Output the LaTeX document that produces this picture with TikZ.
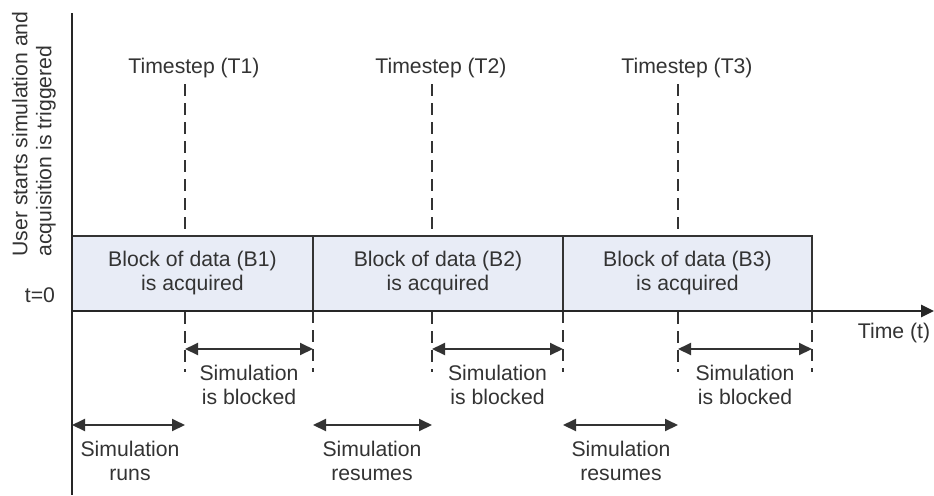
\documentclass[tikz,border=0pt]{standalone}
\usepackage{fontspec}
\setmainfont{Liberation Sans}
\usetikzlibrary{arrows.meta}

\definecolor{ink}{HTML}{333333}
\definecolor{blockfill}{HTML}{E8ECF6}

\tikzset{
  lbl/.style={text=ink, font=\fontsize{10.6}{12}\selectfont, align=center, inner sep=0pt},
  block/.style={lbl, draw=ink, line width=0.8pt, fill=blockfill,
    minimum width=#1, minimum height=37.5pt},
  tick/.style={draw=ink, line width=0.8pt, dash pattern=on 6pt off 3.5pt},
  span/.style={draw=ink, line width=1pt, {Triangle[length=6.5pt,width=6pt]}-{Triangle[length=6.5pt,width=6pt]}},
  axis/.style={draw=black!85, line width=1.4pt}
}

\begin{document}
\begin{tikzpicture}[x=0.5pt, y=-0.5pt]
  \useasboundingbox (0,0) rectangle (934,495);

  % time axis marks
  \coordinate (O) at (72,311);
  \coordinate (top) at (72,13);
  \coordinate (bot) at (72,495);
  \coordinate (tend) at (934,311);
  \coordinate (d1) at (185,84);
  \coordinate (d2) at (432,84);
  \coordinate (d3) at (678,84);
  \coordinate (e1) at (313,311);
  \coordinate (e2) at (563,311);
  \coordinate (e3) at (812,311);

  % dashed timestep lines
  \draw[tick] (d1) -- (d1 |- 0,372);
  \draw[tick] (d2) -- (d2 |- 0,372);
  \draw[tick] (d3) -- (d3 |- 0,372);
  \draw[tick] (e1) -- (e1 |- 0,372);
  \draw[tick] (e2) -- (e2 |- 0,372);
  \draw[tick] (e3) -- (e3 |- 0,372);

  \node[lbl] (t1) at (194,68) {Timestep (T1)};
  \node[lbl] (t2) at (441,68) {Timestep (T2)};
  \node[lbl] (t3) at (687,68) {Timestep (T3)};

  % blocks of data
  \node[block=120.5pt] (b1) at (192.5,273.5) {Block of data (B1)\\is acquired};
  \node[block=125pt] (b2) at (438,273.5) {Block of data (B2)\\is acquired};
  \node[block=124.5pt] (b3) at (687.5,273.5) {Block of data (B3)\\is acquired};

  % axes
  \draw[axis] (top) -- (bot);
  \draw[axis, -{Triangle[length=6.5pt,width=6pt]}] (O) -- (tend);

  \node[lbl] (zero) at (40,295) {t=0};
  \node[lbl] (time) at (894,333) {Time (t)};
  \node[lbl, rotate=90, anchor=west, align=left] (start) at (34,257)
    {User starts simulation and\\acquisition is triggered};

  % blocked spans
  \coordinate (k1) at (185,349);
  \coordinate (k2) at (432,349);
  \coordinate (k3) at (678,349);
  \draw[span] (k1) -- (k1 -| e1);
  \draw[span] (k2) -- (k2 -| e2);
  \draw[span] (k3) -- (k3 -| e3);
  \node[lbl] (blk1) at (249,385) {Simulation\\is blocked};
  \node[lbl] (blk2) at (497.5,385) {Simulation\\is blocked};
  \node[lbl] (blk3) at (745,385) {Simulation\\is blocked};

  % running spans
  \coordinate (r0) at (72,425);
  \coordinate (r1) at (313,425);
  \coordinate (r2) at (563,425);
  \draw[span] (r0) -- (r0 -| d1);
  \draw[span] (r1) -- (r1 -| d2);
  \draw[span] (r2) -- (r2 -| d3);
  \node[lbl] (run) at (130,461) {Simulation\\runs};
  \node[lbl] (res1) at (372,461) {Simulation\\resumes};
  \node[lbl] (res2) at (621,461) {Simulation\\resumes};
\end{tikzpicture}
\end{document}
